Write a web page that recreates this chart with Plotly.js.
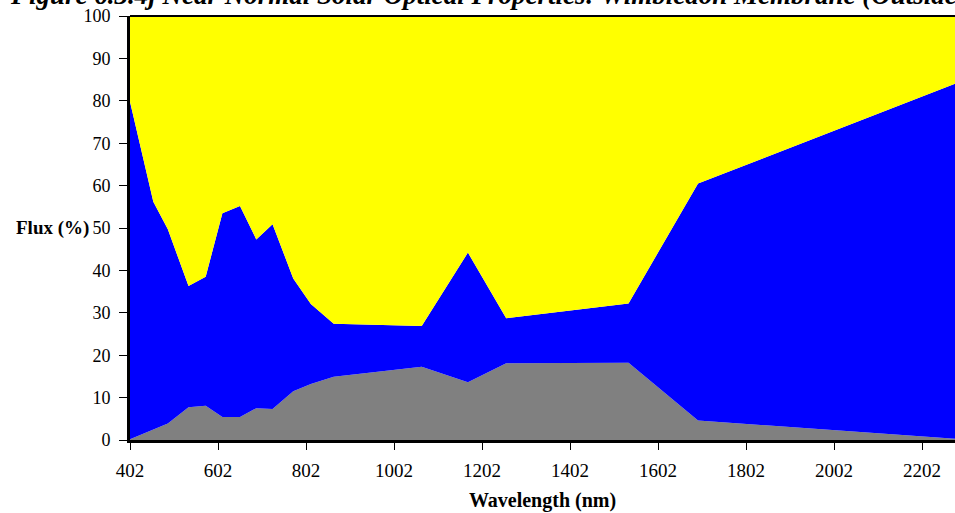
<!DOCTYPE html>
<html>
<head>
<meta charset="utf-8">
<script src="https://cdn.plot.ly/plotly-3.0.1.min.js"></script>
<style>html,body{margin:0;padding:0;background:#fff;}#chart{width:955px;height:513px;}</style>
</head>
<body>
<div id="chart"></div>
<script>
// Wavelength (nm)
const wavelength = [402, 455, 488, 535, 574, 612, 652, 689, 726, 773, 813, 865, 1065, 1170, 1257, 1535, 1693, 2277];
// Transmittance (grey, bottom)
const transmittance = [0.2, 2.4, 3.9, 7.7, 8.1, 5.4, 5.4, 7.5, 7.3, 11.5, 13.2, 14.9, 17.3, 13.6, 18.1, 18.2, 4.6, 0.3];
// Reflectance (blue, middle)
const reflectance = [79.6, 53.8, 45.8, 28.6, 30.4, 48.1, 49.8, 39.8, 43.6, 26.6, 18.9, 12.5, 9.6, 30.6, 10.6, 14.0, 55.9, 83.7];
// Absorptance (yellow, top)
const absorptance = [20.2, 43.8, 50.3, 63.7, 61.5, 46.5, 44.8, 52.7, 49.1, 61.9, 67.9, 72.6, 73.1, 55.8, 71.3, 67.8, 39.5, 16.0];

const xTickVals = [402, 602, 802, 1002, 1202, 1402, 1602, 1802, 2002, 2202];
const yTickVals = [0, 10, 20, 30, 40, 50, 60, 70, 80, 90, 100];

const serif = "'Liberation Serif', 'Times New Roman', serif";

function area(name, y, color) {
  return {
    type: 'scatter', mode: 'lines', name: name,
    x: wavelength, y: y, stackgroup: 'one',
    line: {width: 0, color: color}, fillcolor: color,
    hoverinfo: 'x+y+name'
  };
}

const data = [
  area('Transmittance', transmittance, '#808080'),
  area('Reflectance', reflectance, '#0000FF'),
  area('Absorptance', absorptance, '#FFFF00')
];

const layout = {
  width: 955, height: 513,
  margin: {l: 130, r: 0, t: 16, b: 73, pad: 0},
  paper_bgcolor: '#ffffff', plot_bgcolor: '#ffffff',
  showlegend: false,
  font: {family: serif, color: '#000', size: 18},
  xaxis: {
    range: [402, 2277], tickvals: xTickVals, ticktext: xTickVals.map(String),
    ticks: 'outside', ticklen: 7, tickwidth: 1, tickcolor: '#000',
    showline: true, linecolor: '#000', linewidth: 3,
    showgrid: false, zeroline: false,
    tickfont: {family: serif, size: 19},
    ticklabelstandoff: 4,
    title: {text: '<b>Wavelength (nm)</b>', font: {family: serif, size: 20}, standoff: 14}
  },
  yaxis: {
    range: [0, 100], tickvals: yTickVals,
    ticks: 'outside', ticklen: 8, tickwidth: 1, tickcolor: '#000',
    showline: true, linecolor: '#000', linewidth: 3,
    showgrid: false, zeroline: false,
    tickfont: {family: serif, size: 18},
    ticklabelstandoff: 5
  },
  shapes: [
    {type: 'line', xref: 'paper', yref: 'paper', x0: 0, x1: 1, y0: 1, y1: 1,
     line: {color: '#000', width: 2}}
  ],
  annotations: [
    {text: '<b><i>Figure 6.3.4j Near Normal Solar Optical Properties: Wimbledon Membrane (Outside Surface)</i></b>',
     xref: 'paper', yref: 'paper', x: -0.148, y: 1, xanchor: 'left', yanchor: 'bottom',
     yshift: 4, showarrow: false, font: {family: serif, size: 27, color: '#000'}},
    {text: '<b>Flux (%)</b>', xref: 'paper', yref: 'y', x: -0.047, y: 50,
     xanchor: 'right', yanchor: 'middle', showarrow: false,
     font: {family: serif, size: 19, color: '#000'}}
  ]
};

Plotly.newPlot('chart', data, layout, {displayModeBar: false, staticPlot: true});
</script>
</body>
</html>
